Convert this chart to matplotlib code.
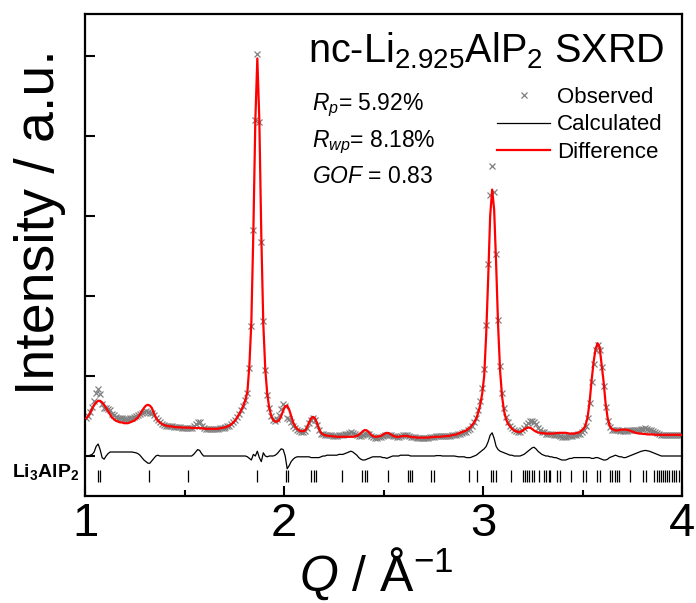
import numpy as np
import matplotlib
matplotlib.use("Agg")
import matplotlib.pyplot as plt
from matplotlib.lines import Line2D

plt.rcParams['font.family'] = ['Liberation Sans', 'DejaVu Sans']
plt.rcParams['mathtext.fontset'] = 'custom'
plt.rcParams['mathtext.rm'] = 'Liberation Sans'
plt.rcParams['mathtext.it'] = 'Liberation Sans:italic'
plt.rcParams['mathtext.bf'] = 'Liberation Sans:bold'

# Q grid of the measurement (step 0.01 1/A)
q_start = 1.006
q_step = 0.01

# calculated profile (red curve), 300 points
calc = [
    0.47, 0.50, 0.54, 0.59, 0.64, 0.67, 0.69, 0.69, 0.67, 0.64,
    0.60, 0.56, 0.52, 0.48, 0.46, 0.44, 0.43, 0.42, 0.42, 0.41,
    0.41, 0.41, 0.42, 0.43, 0.44, 0.46, 0.48, 0.52, 0.56, 0.60,
    0.63, 0.64, 0.63, 0.60, 0.54, 0.48, 0.44, 0.42, 0.40, 0.39,
    0.38, 0.375, 0.37, 0.37, 0.365, 0.36, 0.36, 0.36, 0.355, 0.355,
    0.355, 0.355, 0.355, 0.35, 0.35, 0.35, 0.35, 0.35, 0.345, 0.345,
    0.34, 0.34, 0.34, 0.34, 0.34, 0.34, 0.34, 0.345, 0.35, 0.355,
    0.36, 0.37, 0.38, 0.40, 0.42, 0.45, 0.49, 0.53, 0.58, 0.63,
    0.70, 0.80, 1.13, 1.68, 2.80, 4.20, 4.97, 4.20, 2.75, 1.65,
    1.08, 0.77, 0.60, 0.50, 0.45, 0.43, 0.43, 0.45, 0.50, 0.57,
    0.62, 0.63, 0.58, 0.50, 0.42, 0.37, 0.34, 0.32, 0.31, 0.31,
    0.32, 0.36, 0.42, 0.47, 0.49, 0.47, 0.41, 0.34, 0.29, 0.27,
    0.26, 0.255, 0.25, 0.25, 0.245, 0.245, 0.24, 0.24, 0.24, 0.24,
    0.24, 0.24, 0.24, 0.24, 0.24, 0.245, 0.25, 0.265, 0.285, 0.31,
    0.325, 0.32, 0.30, 0.27, 0.25, 0.24, 0.24, 0.245, 0.25, 0.265,
    0.28, 0.29, 0.285, 0.27, 0.255, 0.245, 0.24, 0.24, 0.245, 0.25,
    0.25, 0.25, 0.245, 0.24, 0.235, 0.235, 0.23, 0.23, 0.23, 0.23,
    0.23, 0.23, 0.23, 0.235, 0.235, 0.24, 0.24, 0.24, 0.24, 0.245,
    0.245, 0.25, 0.25, 0.255, 0.26, 0.265, 0.27, 0.28, 0.29, 0.30,
    0.31, 0.32, 0.34, 0.36, 0.39, 0.42, 0.47, 0.54, 0.64, 0.78,
    1.00, 1.52, 2.22, 3.00, 3.33, 3.08, 2.40, 1.62, 1.06, 0.74,
    0.56, 0.46, 0.40, 0.37, 0.34, 0.32, 0.31, 0.30, 0.30, 0.31,
    0.33, 0.345, 0.355, 0.355, 0.34, 0.32, 0.305, 0.295, 0.29, 0.285,
    0.285, 0.28, 0.28, 0.28, 0.28, 0.28, 0.285, 0.29, 0.29, 0.29,
    0.29, 0.29, 0.285, 0.28, 0.28, 0.28, 0.285, 0.29, 0.30, 0.32,
    0.34, 0.39, 0.49, 0.68, 0.95, 1.18, 1.34, 1.41, 1.36, 1.15,
    0.93, 0.66, 0.48, 0.38, 0.34, 0.33, 0.32, 0.32, 0.325, 0.33,
    0.33, 0.33, 0.325, 0.32, 0.31, 0.30, 0.29, 0.285, 0.28, 0.28,
    0.275, 0.275, 0.27, 0.27, 0.27, 0.27, 0.265, 0.265, 0.265, 0.265,
    0.265, 0.265, 0.265, 0.265, 0.265, 0.265, 0.265, 0.265, 0.265, 0.265,
]

# observed - calculated (black curve)
diff = [
    0.0, 0.0, 0.01, 0.02, 0.05, 0.12, 0.15, 0.08, -0.02, -0.04,
    0.0, 0.03, 0.05, 0.05, 0.05, 0.05, 0.05, 0.05, 0.05, 0.05,
    0.05, 0.05, 0.05, 0.05, 0.045, 0.04, 0.03, 0.01, -0.02, -0.05,
    -0.07, -0.09, -0.09, -0.06, -0.03, 0.0, 0.01, 0.0, 0.0, 0.0,
    0.0, 0.0, 0.0, 0.0, 0.0, 0.0, 0.0, 0.0, 0.0, 0.0,
    0.0, 0.0, 0.0, 0.0, 0.02, 0.05, 0.08, 0.07, 0.03, 0.0,
    0.0, 0.0, 0.0, 0.0, 0.0, 0.0, 0.0, 0.0, 0.0, 0.0,
    0.0, 0.0, 0.0, 0.0, 0.0, 0.0, 0.0, 0.0, 0.0, 0.0,
    0.0, -0.01, -0.03, -0.05, 0.02, 0.0, 0.06, -0.02, -0.07, 0.04,
    0.0, -0.01, 0.0, 0.0, 0.0, 0.01, 0.03, 0.06, 0.09, 0.08,
    0.0, -0.16, -0.12, -0.07, -0.04, -0.02, -0.01, -0.01, -0.01, -0.01,
    -0.01, -0.01, -0.01, -0.02, -0.02, -0.02, -0.02, -0.02, -0.01, 0.0,
    0.0, 0.01, 0.01, 0.01, 0.01, 0.01, 0.01, 0.02, 0.02, 0.02,
    0.03, 0.04, 0.05, 0.06, 0.05, 0.03, 0.01, -0.02, -0.04, -0.05,
    -0.05, -0.04, -0.03, -0.02, -0.01, -0.01, -0.01, -0.01, -0.01, -0.02,
    -0.02, -0.03, -0.02, -0.01, 0.0, 0.0, 0.0, 0.0, 0.01, 0.01,
    0.01, 0.01, 0.01, 0.0, 0.0, 0.0, 0.0, 0.0, 0.0, 0.0,
    0.0, 0.0, 0.0, 0.0, 0.0, 0.0, 0.005, 0.005, 0.005, 0.0,
    0.0, 0.0, 0.0, 0.0, 0.0, 0.0, -0.005, -0.01, -0.01, -0.01,
    -0.01, -0.02, -0.02, -0.02, -0.01, 0.0, 0.01, 0.03, 0.05, 0.07,
    0.09, 0.12, 0.18, 0.26, 0.29, 0.22, 0.12, 0.08, 0.06, 0.05,
    0.04, 0.03, 0.02, 0.01, 0.01, 0.0, 0.0, 0.0, 0.0, 0.01,
    0.02, 0.04, 0.06, 0.08, 0.10, 0.11, 0.09, 0.06, 0.04, 0.02,
    0.01, 0.0, 0.0, -0.01, -0.01, -0.02, -0.02, -0.03, -0.04, -0.05,
    -0.05, -0.05, -0.04, -0.03, -0.03, -0.02, -0.02, -0.02, -0.02, -0.02,
    -0.02, -0.02, -0.02, -0.02, -0.03, -0.03, -0.02, -0.02, -0.03, -0.04,
    -0.05, -0.05, -0.04, -0.02, -0.01, 0.0, 0.01, 0.0, -0.01, -0.01,
    -0.02, -0.02, -0.01, 0.0, 0.01, 0.02, 0.03, 0.04, 0.05, 0.06,
    0.065, 0.07, 0.065, 0.06, 0.05, 0.04, 0.03, 0.02, 0.01, 0.0,
    0.0, 0.0, 0.0, 0.0, 0.0, 0.0, 0.0, 0.0, 0.0, 0.0,
]

# Li3AlP2 reflection positions
refl = [1.064, 1.077, 1.322, 1.518, 1.866, 2.008, 2.022, 2.134, 2.150, 2.163,
        2.291, 2.393, 2.406, 2.419, 2.524, 2.624, 2.635, 2.645, 2.740, 2.755,
        2.931, 2.971, 3.040, 3.050, 3.065, 3.141, 3.200, 3.210, 3.222, 3.232,
        3.246, 3.255, 3.280, 3.305, 3.315, 3.330, 3.338, 3.372, 3.388, 3.440,
        3.505, 3.520, 3.575, 3.590, 3.640, 3.650, 3.663, 3.675, 3.685, 3.738,
        3.805, 3.818, 3.858, 3.872, 3.885, 3.895, 3.905, 3.915, 3.925, 3.935,
        3.948, 3.960, 3.972, 3.985]

calc = np.array(calc)
diff = np.array(diff)
q = q_start + q_step * np.arange(len(calc))
obs = calc + diff

fig = plt.figure(figsize=(6.96, 6.03), dpi=100)
ax = fig.add_axes([85/696, 1 - 496/603, 597/696, 482/603])

ax.plot(q, obs, 'x', color='#808080', ms=4.5, mew=0.9, zorder=2)
ax.plot(q, calc, '-', color='red', lw=1.6, zorder=3)
ax.plot(q, diff, '-', color='black', lw=0.9, zorder=3)
ax.vlines(refl, -0.33, -0.17, color='black', lw=0.9)

ax.set_xlim(1, 4)
ax.set_ylim(-0.5, 5.525)
ax.set_xticks([1, 2, 3, 4])
ax.set_xticks([1.5, 2.5, 3.5], minor=True)
ax.set_yticks([0, 1, 2, 3, 4, 5])
ax.tick_params(axis='both', which='major', direction='in', length=7, width=1.5,
               labelsize=34, pad=4, labelleft=False)
ax.tick_params(axis='x', which='minor', direction='in', length=4, width=1.5)
for s in ax.spines.values():
    s.set_linewidth(1.6)

fig.text(40/696, 1 - 222/603, 'Intensity / a.u.', rotation=90, fontsize=40,
         ha='center', va='center')
fig.text(376/696, 1 - 574/603, r'$Q$ / Å$^{-1}$', fontsize=36,
         ha='center', va='center')
fig.text(12/696, 1 - 472/603, r'$\mathbf{Li_3AlP_2}$', fontsize=14,
         ha='left', va='center')

ax.text(0.373, 0.965, r'nc-Li$_{2.925}$AlP$_2$ SXRD', transform=ax.transAxes,
        fontsize=28.5, ha='left', va='top')
ax.text(0.38, 0.81, r'$R_p$= 5.92%', transform=ax.transAxes, fontsize=16.5, va='center')
ax.text(0.38, 0.733, r'$R_{wp}$= 8.18%', transform=ax.transAxes, fontsize=16.5, va='center')
ax.text(0.38, 0.663, r'$GOF$ = 0.83', transform=ax.transAxes, fontsize=16.5, va='center')

handles = [Line2D([], [], ls='none', marker='x', color='#808080', ms=4.5, mew=0.9),
           Line2D([], [], color='black', lw=0.9),
           Line2D([], [], color='red', lw=1.6)]
ax.legend(handles, ['Observed', 'Calculated', 'Difference'], loc='upper left',
          bbox_to_anchor=(0.69, 0.849), frameon=False, fontsize=16,
          handlelength=2.4, handletextpad=0.3, labelspacing=0.3,
          borderpad=0, borderaxespad=0)

fig.savefig('out.png', dpi=100)
